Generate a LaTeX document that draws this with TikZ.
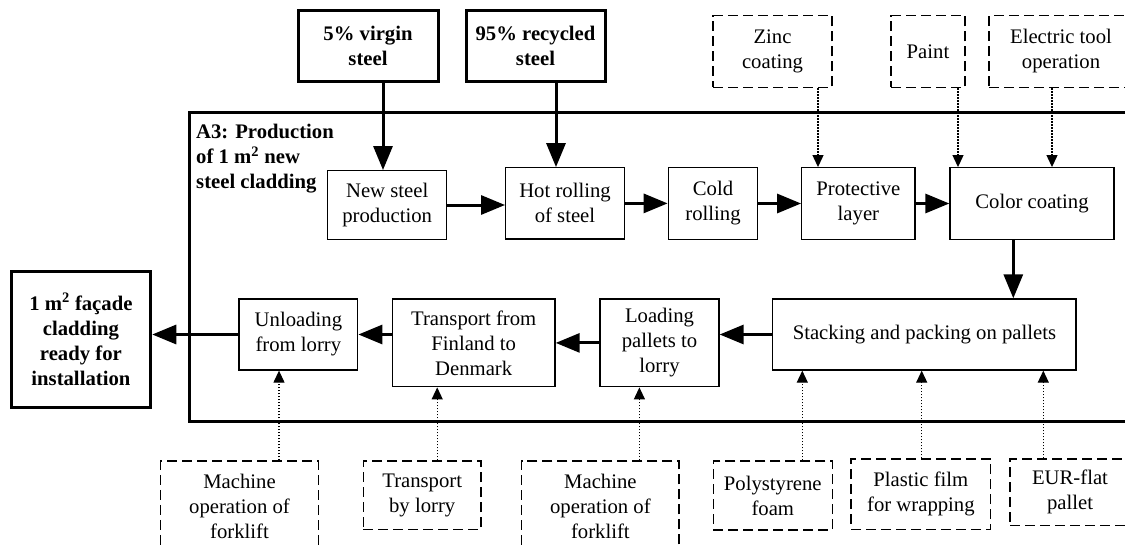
\documentclass[tikz,border=0pt]{standalone}
\usepackage{fontspec}
\setmainfont{Liberation Serif}
\usetikzlibrary{arrows.meta}
\begin{document}
\begin{tikzpicture}[x=1pt,y=-1pt,
  every node/.style={font=\fontsize{20.7}{25}\selectfont, align=center, inner sep=0pt},
  sz/.style 2 args={minimum width=#1pt, minimum height=#2pt},
  proc/.style={draw, line width=1.3pt},
  src/.style={draw, line width=3pt, font=\fontsize{20.7}{25}\selectfont\bfseries},
  aux/.style={draw, line width=1.4pt, dash pattern=on 10pt off 5pt},
  flow/.style={line width=3pt, -{Triangle[length=24pt,width=19pt]}},
  feed/.style={line width=1.2pt, dash pattern=on 1.5pt off 1.5pt, -{Triangle[length=12pt,width=11pt]}},
]
\useasboundingbox (0,0) rectangle (1125,549);
\clip (0,0) rectangle (1125,549);

% system boundary of stage A3
\node[draw, line width=3pt, anchor=north west, sz={951.7}{309}] (frame) at (188.3,111) {};
\node[anchor=north west, align=left, font=\fontsize{20.7}{25}\selectfont\bfseries] (a3) at (196,124)
  {A3: Production\\of 1 m\textsuperscript{2} new\\steel cladding};

% raw material inputs
\node[src, sz={140}{71}] (virgin) at (368,45.5) {5\% virgin\\steel};
\node[src, sz={139}{71}] (recycled) at (535.5,45.5) {95\% recycled\\steel};

% auxiliary inputs, top
\node[aux, sz={119}{71.6}] (zinc) at (772.5,51.5) {Zinc\\coating};
\node[aux, sz={74}{71.6}] (paint) at (928,51.5) {Paint};
\node[aux, sz={144}{71.6}] (electric) at (1061,51.5) {Electric tool\\operation};

% production steps
\node[proc, sz={119}{68.6}] (new) at (387.2,205) {New steel\\production};
\node[proc, sz={118.6}{71.3}] (hot) at (565,203.4) {Hot rolling\\of steel};
\node[proc, sz={89.4}{71.6}] (cold) at (713,203.5) {Cold\\rolling};
\node[proc, sz={113.3}{71.6}] (prot) at (858.4,203.5) {Protective\\layer};
\node[proc, sz={164}{71.6}] (color) at (1032,203.5) {Color coating};

% packing and transport steps
\node[proc, sz={303.3}{71}] (stack) at (924.4,334.5) {Stacking and packing on pallets};
\node[proc, sz={119}{87.7}] (loading) at (659.5,342.9) {Loading\\pallets to\\lorry};
\node[proc, sz={162.7}{87.7}] (transport) at (473.7,342.9) {Transport from\\Finland to\\Denmark};
\node[proc, sz={118.7}{71}] (unload) at (298.4,334.5) {Unloading\\from lorry};

% final product
\node[src, sz={139.7}{136.3}] (facade) at (80.9,339.2) {1 m\textsuperscript{2} façade\\cladding\\ready for\\installation};

% auxiliary inputs, bottom
\node[aux, sz={157.6}{91}] (fork1) at (239.5,506.5) {Machine\\operation of\\forklift};
\node[aux, sz={117.7}{68.3}] (lorry) at (422.2,495.2) {Transport\\by lorry};
\node[aux, sz={157.3}{91}] (fork2) at (600.4,506.5) {Machine\\operation of\\forklift};
\node[aux, sz={119}{69}] (poly) at (772.8,495.5) {Polystyrene\\foam};
\node[aux, sz={139.7}{70.3}] (plastic) at (920.9,494.2) {Plastic film\\for wrapping};
\node[aux, sz={120}{66.7}] (eur) at (1070,492.4) {EUR-flat\\pallet};

% main material flow
\draw[flow] ([xshift=15pt]virgin.south) -- ([xshift=-4.2pt]new.north);
\draw[flow] ([xshift=20.5pt]recycled.south) -- ([xshift=-9pt]hot.north);
\draw[flow] (new.east) -- (new.east -| hot.west);
\draw[flow] (hot.east) -- (hot.east -| cold.west);
\draw[flow] (cold.east) -- (cold.east -| prot.west);
\draw[flow] (prot.east) -- (prot.east -| color.west);
\draw[flow] ([xshift=-18.7pt]color.south) -- ([xshift=-18.7pt]color.south |- stack.north);
\draw[flow] (stack.west) -- (stack.west -| loading.east);
\draw[flow] (loading.west) -- (loading.west -| transport.east);
\draw[flow] (unload.east -| transport.west) -- (unload.east);
\draw[flow] (unload.west) -- (unload.west -| facade.east);

% auxiliary flows
\draw[feed] ([xshift=45.5pt]zinc.south) -- ([xshift=45.5pt]zinc.south |- prot.north);
\draw[feed] ([xshift=30pt]paint.south) -- ([xshift=30pt]paint.south |- color.north);
\draw[feed] ([xshift=-9pt]electric.south) -- ([xshift=-9pt]electric.south |- color.north);
\draw[feed] ([xshift=39.5pt]fork1.north) -- ([xshift=39.5pt]fork1.north |- unload.south);
\draw[feed] ([xshift=15pt]lorry.north) -- ([xshift=15pt]lorry.north |- transport.south);
\draw[feed] ([xshift=39pt]fork2.north) -- ([xshift=39pt]fork2.north |- loading.south);
\draw[feed] ([xshift=29.5pt]poly.north) -- ([xshift=29.5pt]poly.north |- stack.south);
\draw[feed] ([xshift=0.8pt]plastic.north) -- ([xshift=0.8pt]plastic.north |- stack.south);
\draw[feed] ([xshift=-26.7pt]eur.north) -- ([xshift=-26.7pt]eur.north |- stack.south);
\end{tikzpicture}
\end{document}
